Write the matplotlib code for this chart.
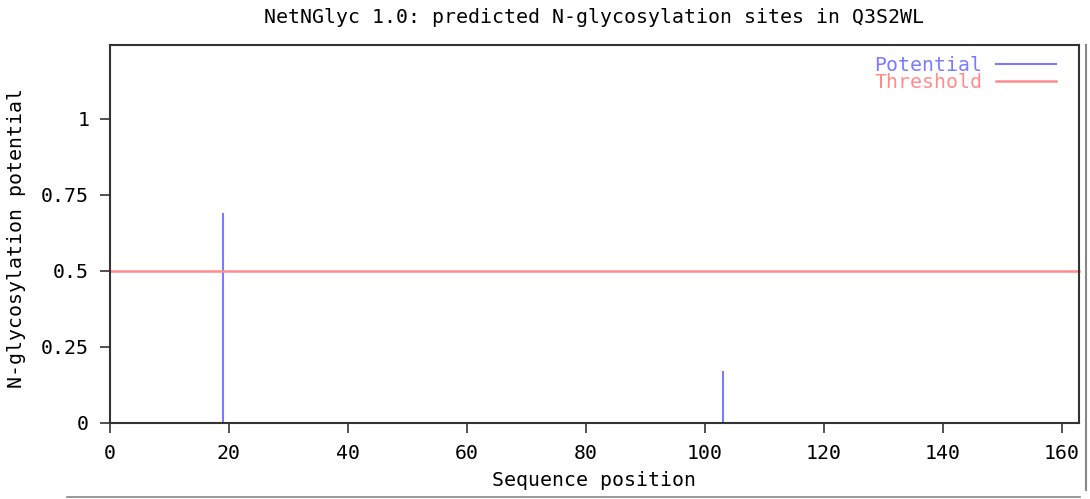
import numpy as np
import matplotlib.pyplot as plt
from matplotlib.lines import Line2D

# predicted sites (sequence position, potential)
positions = [19, 103]
potentials = [0.69, 0.17]
threshold = 0.5
x_ticks = [0, 20, 40, 60, 80, 100, 120, 140, 160]
y_ticks = [0, 0.25, 0.5, 0.75, 1]
y_tick_labels = ["0", "0.25", "0.5", "0.75", "1"]

blue = "#7b7bff"
red = "#ff8c8c"
fs = 14.3

plt.rcParams["font.family"] = ["DejaVu Sans Mono"]
plt.rcParams["font.size"] = fs

fig = plt.figure(figsize=(10.9, 4.99), dpi=100)
ax = fig.add_axes([110 / 1090, 1 - 423 / 499, 969 / 1090, 378 / 499])

ax.vlines(positions, 0, potentials, color=blue, linewidth=1.5)
ax.axhline(threshold, color=red, linewidth=1.8, clip_on=False)

ax.set_xlim(0, 162.9)
ax.set_ylim(0, 1.243)
ax.set_xticks(x_ticks)
ax.set_yticks(y_ticks)
ax.set_yticklabels(y_tick_labels)
ax.tick_params(direction="out", length=7, width=1.2, color="#333333", labelsize=fs, pad=8)
for s in ax.spines.values():
    s.set_linewidth(1.5)
    s.set_color("#333333")

ax.set_title("NetNGlyc 1.0: predicted N-glycosylation sites in Q3S2WL", fontsize=fs, pad=16)
ax.set_xlabel("Sequence position", fontsize=fs, labelpad=6)
ax.set_ylabel("N-glycosylation potential", fontsize=fs)
ax.yaxis.set_label_coords(-0.087, 0.49)

handles = [Line2D([], [], color=blue, linewidth=1.5), Line2D([], [], color=red, linewidth=1.8)]
leg = ax.legend(handles, ["Potential", "Threshold"], loc="upper right",
                bbox_to_anchor=(1 - 17 / 969, 1 - 5 / 378), frameon=False,
                markerfirst=False, labelcolor="linecolor", fontsize=fs,
                handlelength=3.0, handletextpad=0.7, borderaxespad=0, labelspacing=-0.1,
                borderpad=0.3)

# border lines of the original image
fig.add_artist(Line2D([67 / 1090, 1080 / 1090], [1 - 497 / 499] * 2, color="#888888", linewidth=1.2))
fig.add_artist(Line2D([1086 / 1090] * 2, [1 - 45 / 499, 1 - 490 / 499], color="#888888", linewidth=1.5))

fig.savefig("out.png", dpi=100)
